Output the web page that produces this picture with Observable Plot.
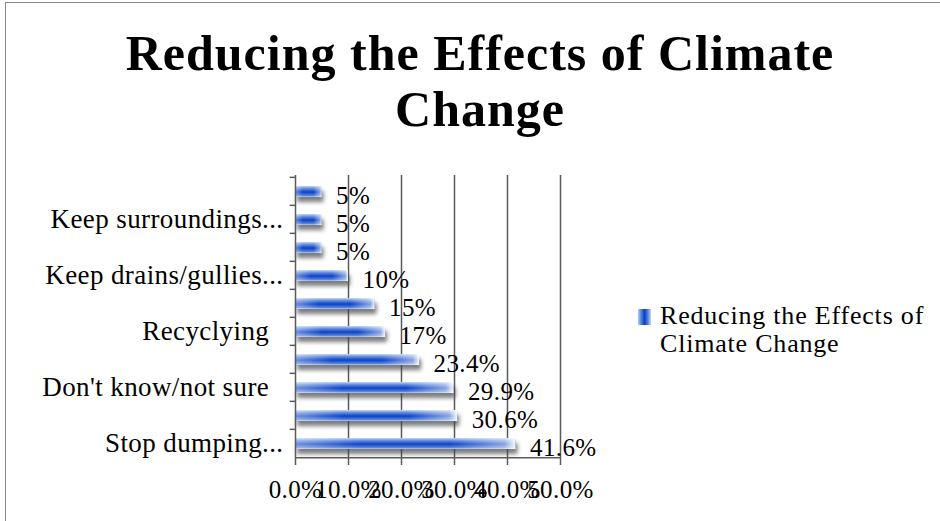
<!DOCTYPE html>
<html><head><meta charset="utf-8">
<script src="https://cdn.jsdelivr.net/npm/d3@7"></script>
<script src="https://cdn.jsdelivr.net/npm/@observablehq/plot@0.6"></script>
<style>
html,body{margin:0;padding:0;background:#fff;}
#wrap{position:relative;width:940px;height:521px;overflow:hidden;font-family:"Liberation Serif",serif;color:#000;}
#frame{position:absolute;left:5px;top:2px;width:940px;height:530px;border-top:1.5px solid #8a8a8a;border-left:1.5px solid #8a8a8a;}
#title{position:absolute;left:0;top:25px;width:960px;text-align:center;font-weight:bold;font-size:50px;line-height:56px;letter-spacing:1px;}
#chart{position:absolute;left:0;top:160px;}
#legend{position:absolute;left:638px;top:302px;font-size:26px;line-height:28px;letter-spacing:0.8px;}
#legend .sw{position:absolute;left:0;top:7px;width:13px;height:16px;}
#legend .tx{position:absolute;left:22px;top:0;width:300px;}
</style></head>
<body><div id="wrap"><div id="frame"></div>
<div id="title">Reducing the Effects of Climate<br>Change</div>
<div id="chart"></div>
<div id="legend"><svg class="sw" width="13" height="16"><defs><linearGradient id="lg" x1="0" x2="1" y1="0" y2="0"><stop offset="0" stop-color="#b5cff7"/><stop offset="0.25" stop-color="#4f7fdc"/><stop offset="0.5" stop-color="#0b3fc4"/><stop offset="0.75" stop-color="#4f7fdc"/><stop offset="1" stop-color="#c5daf9"/></linearGradient></defs><rect width="13" height="16" fill="url(#lg)"/></svg><div class="tx">Reducing the Effects of<br>Climate Change</div></div>
</div>
<script>
const seriesName = "Reducing the Effects of Climate Change";
const categories = ["", "Keep surroundings...", "", "Keep drains/gullies...", "", "Recyclying  ", "", "Don't know/not sure  ", "", "Stop dumping..."];
const values = [5, 5, 5, 10, 15, 17, 23.4, 29.9, 30.6, 41.6];
const valueLabels = ["5%", "5%", "5%", "10%", "15%", "17%", "23.4%", "29.9%", "30.6%", "41.6%"];
const xTicks = [0, 10, 20, 30, 40, 50];

const data = values.map((v, i) => ({i, label: categories[i], value: v, text: valueLabels[i]}));
const H = 348, MT = 15, MB = 50;
const step = (H - MT - MB) / categories.length;

const plot = Plot.plot({
  width: 640, height: H,
  marginLeft: 295, marginRight: 80, marginTop: MT, marginBottom: MB,
  style: {fontFamily: "Liberation Serif, serif", fontSize: "25px", color: "#000", background: "transparent", overflow: "visible", letterSpacing: "0.4px"},
  x: {domain: [0, 50], ticks: xTicks, label: null},
  y: {domain: d3.range(categories.length), padding: 0, label: null},
  marks: [
    Plot.ruleX(xTicks.slice(1), {stroke: "#5a5a5a", strokeWidth: 1.5, strokeOpacity: 1}),
    Plot.barX(data, {x: "value", y: "i", fill: "url(#bargrad)", insetTop: 9, insetBottom: 8, className: "bars"}),
    Plot.barX(data, {x: "value", y: "i", fill: "url(#barhl)", insetTop: 9, insetBottom: 8}),
    Plot.ruleX([0], {stroke: "#5a5a5a", strokeWidth: 1.5}),
    Plot.ruleY(data, {y: "i", x1: -1, x2: 0, dy: -step / 2, stroke: "#5a5a5a", strokeWidth: 1.5}),
    Plot.ruleY(data.slice(-1), {y: "i", x1: 0, x2: 50, dy: step / 2, stroke: "#5a5a5a", strokeWidth: 1.5}),
    Plot.text(data, {x: "value", y: "i", text: "text", textAnchor: "start", dx: 14, dy: 4, fontSize: 25, fill: "#000"}),
    Plot.axisY({tickSize: 0, tickPadding: 12, tickFormat: i => categories[i].replace(/ /g, "\u00a0"), fontSize: 27, label: null}),
    Plot.axisX({ticks: xTicks, tickSize: 7, tickPadding: 15, tickFormat: d => d.toFixed(1) + "%", stroke: "#5a5a5a", strokeWidth: 1.5, fontSize: 25, label: null}),
  ]
});

const svg = d3.select(plot);
const defs = svg.insert("defs", ":first-child");
const g1 = defs.append("linearGradient").attr("id", "bargrad").attr("x1", 0).attr("x2", 0).attr("y1", 0).attr("y2", 1);
[[0, "#c7d8f7"], [0.2, "#6c95e4"], [0.55, "#0d40c3"], [0.85, "#4f7ddb"], [1, "#b8cdf4"]].forEach(([o, c]) => g1.append("stop").attr("offset", o).attr("stop-color", c));
const g2 = defs.append("linearGradient").attr("id", "barhl").attr("x1", 0).attr("x2", 1).attr("y1", 0).attr("y2", 0);
[[0, "#ffffff", 0.4], [0.3, "#ffffff", 0.0], [0.7, "#ffffff", 0.0], [0.95, "#ffffff", 0.5], [1, "#ffffff", 0.95]].forEach(([o, c, a]) => g2.append("stop").attr("offset", o).attr("stop-color", c).attr("stop-opacity", a));
const f = defs.append("filter").attr("id", "shadow").attr("x", "-10%").attr("y", "-50%").attr("width", "130%").attr("height", "260%");
f.append("feDropShadow").attr("dx", 2).attr("dy", 5).attr("stdDeviation", 2).attr("flood-color", "#444").attr("flood-opacity", 0.7);
svg.select("g.bars").attr("filter", "url(#shadow)");

document.getElementById("chart").appendChild(plot);
</script></body></html>
